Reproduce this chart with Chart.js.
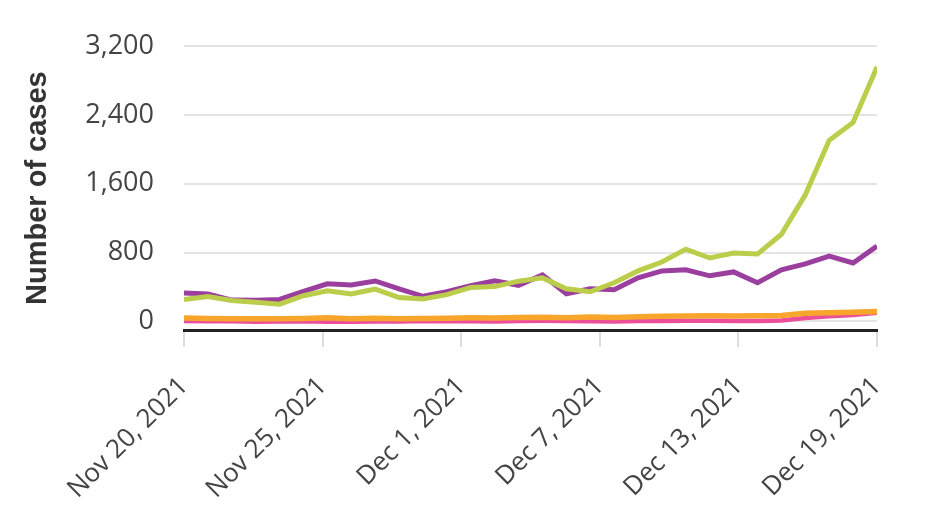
<!DOCTYPE html>
<html>
<head>
<meta charset="utf-8">
<script src="https://cdn.jsdelivr.net/npm/chart.js@4/dist/chart.umd.min.js"></script>
<style>
	html, body { margin: 0; padding: 0; background: #fff; }
	#wrap { width: 945px; height: 515px; }
</style>
</head>
<body>
<div id="wrap"><canvas id="chart" width="945" height="515"></canvas></div>
<script>
// daily values, Nov 20 2021 .. Dec 19 2021
var days = ['Nov 20','Nov 21','Nov 22','Nov 23','Nov 24','Nov 25','Nov 26','Nov 27','Nov 28','Nov 29','Nov 30',
	'Dec 1','Dec 2','Dec 3','Dec 4','Dec 5','Dec 6','Dec 7','Dec 8','Dec 9','Dec 10','Dec 11','Dec 12','Dec 13',
	'Dec 14','Dec 15','Dec 16','Dec 17','Dec 18','Dec 19'];

var green = [253, 290, 242, 222, 200, 299, 357, 320, 376, 278, 260, 311, 395, 405, 468,
	506, 380, 345, 449, 587, 690, 840, 737, 794, 783, 1013, 1473, 2106, 2313, 2958];
var purple = [330, 319, 248, 246, 255, 350, 437, 424, 470, 378, 292, 345, 414, 472, 420,
	541, 322, 380, 368, 506, 587, 600, 530, 575, 449, 599, 668, 760, 679, 875];
var orange = [40, 35, 32, 30, 32, 35, 42, 30, 38, 30, 35, 38, 42, 40, 45,
	48, 42, 50, 45, 55, 60, 62, 65, 62, 65, 68, 95, 100, 105, 115];
var pink = [5, 3, 2, -5, 0, 2, -5, -3, -2, 0, 5, 3, 2, 0, 5,
	8, 5, 3, 0, 5, 5, 8, 8, 5, 5, 10, 40, 60, 75, 100];

var xTickPos = [0, 5.8, 11.6, 17.4, 23.2, 29];
var xTickLabels = ['Nov 20, 2021', 'Nov 25, 2021', 'Dec 1, 2021', 'Dec 7, 2021', 'Dec 13, 2021', 'Dec 19, 2021'];
var yTicks = [0, 800, 1600, 2400, 3200];

function pts(arr){
	return arr.map(function(v, i){ return {x: i, y: v}; });
}

function line(label, arr, color, w){
	return {
		label: label,
		data: pts(arr),
		borderColor: color,
		backgroundColor: color,
		borderWidth: w,
		pointRadius: 0,
		tension: 0,
		fill: false
	};
}

var ctx = document.getElementById('chart').getContext('2d');
var chart = new Chart(ctx, {
	type: 'line',
	data: {
		datasets: [
			line('green', green, '#bbcd4b', 5),
			line('purple', purple, '#9b3f9f', 5),
			line('orange', orange, '#f8a52c', 5.5),
			line('pink', pink, '#ec4f9a', 4.5)
		]
	},
	options: {
		responsive: false,
		animation: false,
		events: [],
		layout: { padding: { left: 11, top: 41, right: 68, bottom: 0 } },
		plugins: { legend: { display: false }, tooltip: { enabled: false } },
		scales: {
			x: {
				type: 'linear',
				min: 0,
				max: 29,
				afterBuildTicks: function(scale){
					scale.ticks = xTickPos.map(function(v){ return {value: v}; });
				},
				afterFit: function(scale){ scale.height = 185; },
				grid: { drawOnChartArea: false, drawTicks: true, tickLength: 17, color: '#dddddd', lineWidth: 2 },
				border: { display: true, color: '#222222', width: 3 },
				ticks: {
					autoSkip: false,
					maxRotation: 45,
					minRotation: 45,
					padding: 24,
					color: '#444',
					font: { family: 'Open Sans', size: 26 },
					callback: function(value, index){ return xTickLabels[index]; }
				}
			},
			y: {
				min: -100,
				max: 3200,
				afterBuildTicks: function(scale){
					scale.ticks = yTicks.map(function(v){ return {value: v}; });
				},
				afterFit: function(scale){ scale.width = 173; },
				grid: { drawTicks: false, color: '#e4e4e4', lineWidth: 2 },
				border: { display: false },
				ticks: {
					padding: 30,
					color: '#444',
					font: { family: 'Open Sans', size: 27 },
					callback: function(value){ return value.toLocaleString('en-US'); }
				},
				title: {
					display: true,
					text: 'Number of cases',
					color: '#333',
					padding: { top: 10, bottom: 0 },
					font: { family: 'Liberation Sans', size: 29, weight: 'bold' }
				}
			}
		}
	}
});
</script>
</body>
</html>
